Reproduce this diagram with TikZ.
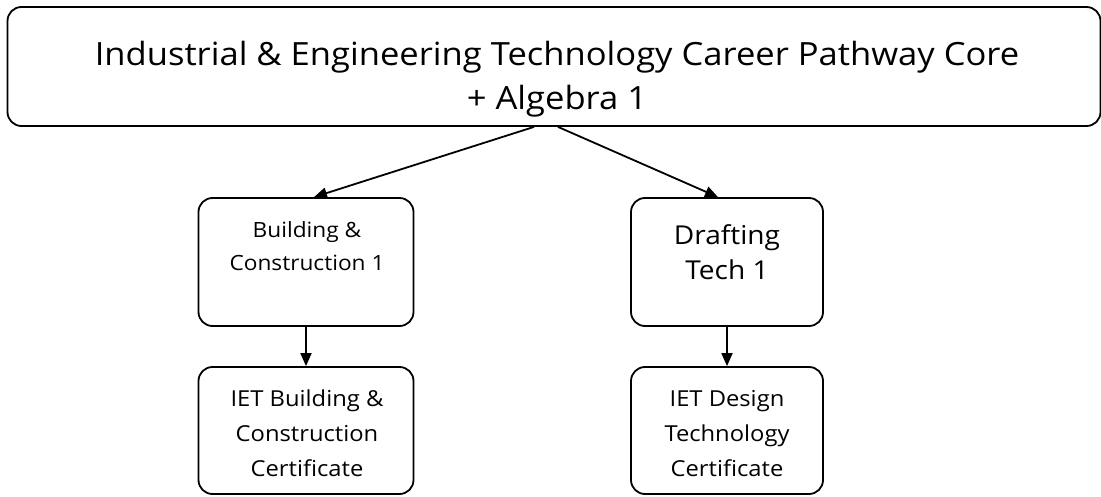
\documentclass[tikz,border=0pt]{standalone}
\usepackage{fontspec}
\setmainfont[FakeStretch=1.08]{Open Sans}
\usetikzlibrary{arrows.meta,calc}
\tikzset{
  box/.style={draw=black, line width=1.8pt, rounded corners=14pt, fill=white, inner sep=0pt},
  lbl/.style={align=center, inner sep=0pt, anchor=north},
  arr/.style={line width=1.8pt, -{Triangle[length=13pt,width=11pt]}}
}
\begin{document}
\begin{tikzpicture}[x=1pt,y=1pt]
\useasboundingbox[fill=white] (0,0) rectangle (1101,496);
% boxes
\node[box, minimum width=1093pt, minimum height=119pt] (top) at (554,429.5) {};
\node[box, minimum width=215pt, minimum height=128pt] (bc) at (306,234) {};
\node[box, minimum width=215pt, minimum height=127pt] (bcc) at (306,65.5) {};
\node[box, minimum width=192pt, minimum height=128pt] (dt) at (727,234) {};
\node[box, minimum width=192pt, minimum height=127pt] (dtc) at (727,65.5) {};
% texts
\node[lbl, font=\fontsize{32}{44}\selectfont] (ttop) at (557,455) {Industrial \& Engineering Technology Career Pathway Core\\+ Algebra 1};
\node[lbl, font=\fontsize{21}{33}\selectfont] (tbc) at (307,275) {Building \&\\Construction 1};
\node[lbl, font=\fontsize{26}{35}\selectfont] (tdt) at (727,272) {Drafting\\Tech 1};
\node[lbl, font=\fontsize{22}{35}\selectfont] (tbcc) at (307,106) {IET Building \&\\Construction\\Certificate};
\node[lbl, font=\fontsize{22}{35}\selectfont] (tdtc) at (727,106) {IET Design\\Technology\\Certificate};
% connectors
\draw[arr] ($(top.south)+(-20,0)$) -- ($(bc.north)+(8,0)$);
\draw[arr] ($(top.south)+(4,0)$) -- ($(dt.north)+(-9,0)$);
\draw[arr] (bc.south) -- (bcc.north);
\draw[arr] (dt.south) -- (dtc.north);
\end{tikzpicture}
\end{document}
